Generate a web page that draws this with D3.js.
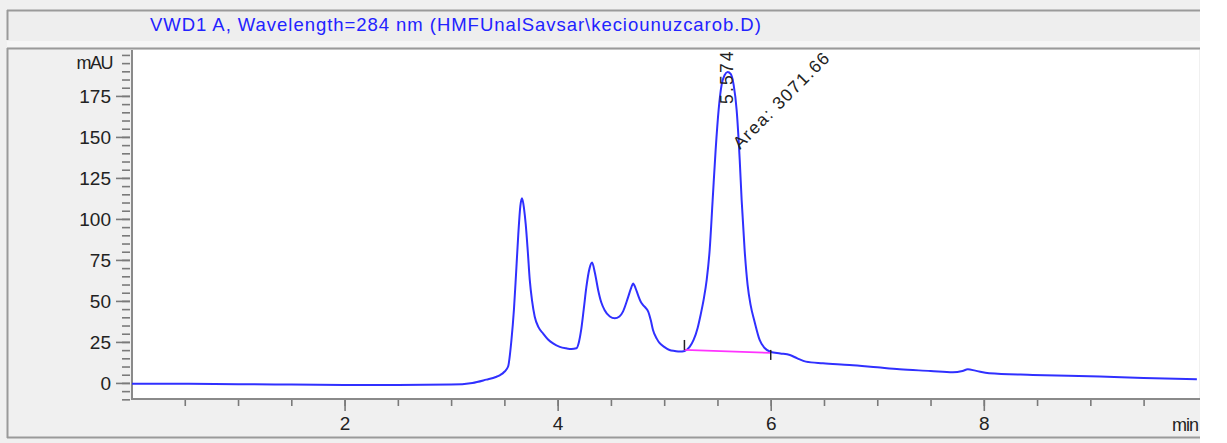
<!DOCTYPE html>
<html>
<head>
<meta charset="utf-8">
<script src="https://cdn.jsdelivr.net/npm/d3@7"></script>
<style>
  html, body { margin: 0; padding: 0; background: #ffffff; }
  svg { display: block; }
  text { font-family: "Liberation Sans", Arial, sans-serif; }
</style>
</head>
<body>
<svg id="chart" width="1227" height="443"></svg>
<script>
// Signal trace: retention time (min) and detector response (mAU)
const timeMin = [
  0.00, 0.50, 1.00, 1.50, 2.00, 2.50, 3.00, 3.20, 3.33, 3.42, 3.46, 3.50, 3.535,
  3.566, 3.59, 3.61, 3.63, 3.65, 3.666, 3.685, 3.70, 3.72, 3.738, 3.76, 3.785,
  3.82, 3.863, 3.91, 3.957, 4.02, 4.08, 4.13, 4.176, 4.20, 4.22, 4.245, 4.27,
  4.30, 4.323, 4.35, 4.38, 4.41, 4.44, 4.49, 4.536, 4.58, 4.613, 4.66, 4.69,
  4.708, 4.73, 4.754, 4.78, 4.80, 4.83, 4.85, 4.875, 4.895, 4.93, 4.958, 5.00,
  5.05, 5.10, 5.145, 5.192, 5.239, 5.276, 5.314, 5.342, 5.370, 5.399, 5.427,
  5.455, 5.483, 5.511, 5.539, 5.568, 5.596, 5.624, 5.652, 5.680, 5.709, 5.727,
  5.755, 5.783, 5.811, 5.849, 5.896, 5.943, 6.00, 6.09, 6.18, 6.25, 6.33, 6.49,
  6.74, 7.00, 7.21, 7.50, 7.71, 7.80, 7.85, 7.92, 8.05, 8.46, 9.09, 9.50, 10.0
];
const signalMAU = [
  -0.5, -0.5, -0.8, -1.0, -1.2, -1.2, -1.0, 0.0, 2.0, 3.6, 4.8, 6.8, 10.0,
  26.0, 45.0, 67.0, 90.0, 108.0, 112.6, 106.0, 97.0, 80.0, 63.0, 50.0, 40.4,
  34.0, 30.2, 26.5, 24.1, 22.0, 21.1, 20.7, 21.1, 25.0, 32.0, 45.0, 58.7,
  70.0, 73.4, 67.0, 56.7, 49.0, 44.5, 40.5, 39.4, 40.5, 43.5, 52.0, 58.0,
  60.7, 58.0, 53.7, 49.5, 47.6, 45.5, 43.5, 38.0, 32.3, 27.0, 24.2, 22.0,
  20.1, 19.5, 19.1, 19.5, 22.0, 26.2, 33.5, 41.5, 50.6, 62.8, 81.1,
  111.6, 142.1, 166.5, 181.7, 187.8, 189.6, 188.4, 181.7, 166.5, 136.0, 111.6,
  81.1, 59.8, 47.6, 37.2, 26.2, 21.3, 18.9, 18.0, 17.0, 15.0, 13.0, 12.0,
  11.0, 9.5, 8.3, 7.3, 6.5, 7.3, 8.3, 7.5, 5.9, 4.9, 3.9, 3.0, 2.2
];

// Integration baseline of the main peak: start / end (min, mAU)
const baseTime = [5.19, 6.00];
const baseMAU = [20.1, 18.3];

// Peak annotations
const peakRT = 5.574;
const peakRTLabel = "5.574";
const peakAreaLabel = "Area: 3071.66";

// Axis ticks and labels
const xMajorTicks = [2, 4, 6, 8];
const yMajorTicks = [0, 25, 50, 75, 100, 125, 150, 175];
const xUnit = "min";
const yUnit = "mAU";
const titleText = "VWD1 A, Wavelength=284 nm (HMFUnalSavsar\\keciounuzcarob.D)";

const svg = d3.select("#chart");
const W = 1227, H = 443;

// Layout of the window panels and plot area
const plot = { left: 132, right: 1199, top: 50, bottom: 399 };

const x = d3.scaleLinear().domain([0, 10.02]).range([plot.left - 0.5, plot.right]);
const y = d3.scaleLinear().domain([-9.8, 203]).range([plot.bottom, plot.top]);

// Background
svg.append("rect").attr("x", 0).attr("y", 0).attr("width", W).attr("height", H).attr("fill", "#ffffff");
svg.append("rect").attr("x", 0).attr("y", 0).attr("width", 1200).attr("height", H).attr("fill", "#f0f0f0");

// Title panel
svg.append("rect").attr("x", 7).attr("y", 10).attr("width", 1193).attr("height", 31).attr("fill", "#eeeeee");
svg.append("rect").attr("x", 7).attr("y", 41).attr("width", 1193).attr("height", 6).attr("fill", "#f6f6f6");
svg.append("line").attr("x1", 7).attr("x2", 1200).attr("y1", 10.5).attr("y2", 10.5)
  .attr("stroke", "#9a9a9a").attr("stroke-width", 2);
svg.append("line").attr("x1", 7.5).attr("x2", 7.5).attr("y1", 10).attr("y2", 40)
  .attr("stroke", "#9a9a9a").attr("stroke-width", 2);
svg.append("text").attr("x", 150).attr("y", 31)
  .attr("fill", "#2222ff").attr("font-size", 18.5).attr("letter-spacing", 0.96)
  .text(titleText);

// Chart panel frame
svg.append("line").attr("x1", 7).attr("x2", 1200).attr("y1", 48.5).attr("y2", 48.5)
  .attr("stroke", "#9a9a9a").attr("stroke-width", 2);
svg.append("line").attr("x1", 7.5).attr("x2", 7.5).attr("y1", 48).attr("y2", 438)
  .attr("stroke", "#9a9a9a").attr("stroke-width", 2);
svg.append("line").attr("x1", 7).attr("x2", 1200).attr("y1", 437.5).attr("y2", 437.5)
  .attr("stroke", "#9a9a9a").attr("stroke-width", 2);

// Plot area
svg.append("rect").attr("x", plot.left).attr("y", plot.top)
  .attr("width", plot.right - plot.left).attr("height", plot.bottom - plot.top)
  .attr("fill", "#ffffff");

// Y axis
const yMinor = d3.range(-10, 201, 5);
const yAxisMinor = d3.axisLeft(y).tickValues(yMinor).tickSize(8).tickFormat("");
const yAxisMajor = d3.axisLeft(y).tickValues(yMajorTicks).tickSize(14).tickPadding(5).tickFormat(d3.format("d"));
const gyMinor = svg.append("g").attr("transform", `translate(${plot.left - 2},0)`).call(yAxisMinor);
const gyMajor = svg.append("g").attr("transform", `translate(${plot.left - 2},0)`).call(yAxisMajor);
[gyMinor, gyMajor].forEach(g => {
  g.select(".domain").remove();
  g.selectAll(".tick line").attr("stroke", "#7a7a7a").attr("stroke-width", 1.6);
});
gyMajor.selectAll(".tick text").attr("fill", "#222").attr("font-size", 19)
  .attr("font-family", "Liberation Sans, Arial, sans-serif");
svg.append("line").attr("x1", plot.left).attr("x2", plot.left).attr("y1", plot.top).attr("y2", plot.bottom + 1)
  .attr("stroke", "#8a8a8a").attr("stroke-width", 2);
svg.append("text").attr("x", 112).attr("y", y(195)).attr("dy", "0.35em")
  .attr("text-anchor", "end").attr("fill", "#222").attr("font-size", 18)
  .attr("letter-spacing", -1.5)
  .text(yUnit);

// X axis
const xMinor = d3.range(0.5, 9.51, 0.5);
const xAxisMinor = d3.axisBottom(x).tickValues(xMinor).tickSize(7).tickFormat("");
const xAxisMajor = d3.axisBottom(x).tickValues(xMajorTicks).tickSize(12).tickPadding(6).tickFormat(d3.format("d"));
const gxMinor = svg.append("g").attr("transform", `translate(0,${plot.bottom})`).call(xAxisMinor);
const gxMajor = svg.append("g").attr("transform", `translate(0,${plot.bottom})`).call(xAxisMajor);
[gxMinor, gxMajor].forEach(g => {
  g.select(".domain").remove();
  g.selectAll(".tick line").attr("stroke", "#7a7a7a").attr("stroke-width", 1.6);
});
gxMajor.selectAll(".tick text").attr("fill", "#222").attr("font-size", 19)
  .attr("font-family", "Liberation Sans, Arial, sans-serif");
svg.append("line").attr("x1", plot.left - 1).attr("x2", 1200).attr("y1", plot.bottom).attr("y2", plot.bottom)
  .attr("stroke", "#8a8a8a").attr("stroke-width", 2);
svg.append("text").attr("x", 1198).attr("y", 431)
  .attr("text-anchor", "end").attr("fill", "#222").attr("font-size", 18)
  .attr("letter-spacing", -1)
  .text(xUnit);

// Clip the trace to the plot area
svg.append("clipPath").attr("id", "plotClip").append("rect")
  .attr("x", plot.left).attr("y", plot.top).attr("width", plot.right - plot.left).attr("height", plot.bottom - plot.top);

const points = timeMin.map((t, i) => [t, signalMAU[i]]);
const line = d3.line().x(d => x(d[0])).y(d => y(d[1])).curve(d3.curveMonotoneX);

svg.append("path").datum(points)
  .attr("clip-path", "url(#plotClip)")
  .attr("d", line)
  .attr("fill", "none")
  .attr("stroke", "#3030ff")
  .attr("stroke-width", 2)
  .attr("stroke-linejoin", "round");

// Integration baseline with start/end markers
svg.append("line")
  .attr("x1", x(baseTime[0])).attr("y1", y(baseMAU[0]))
  .attr("x2", x(baseTime[1])).attr("y2", y(baseMAU[1]))
  .attr("stroke", "#ff33ff").attr("stroke-width", 1.8);
svg.append("line")
  .attr("x1", x(baseTime[0])).attr("x2", x(baseTime[0]))
  .attr("y1", y(baseMAU[0]) - 10).attr("y2", y(baseMAU[0]))
  .attr("stroke", "#222").attr("stroke-width", 1.5);
svg.append("line")
  .attr("x1", x(baseTime[1])).attr("x2", x(baseTime[1]))
  .attr("y1", y(baseMAU[1]) - 3).attr("y2", y(baseMAU[1]) + 7)
  .attr("stroke", "#222").attr("stroke-width", 1.5);

// Retention time label (vertical) and area label (diagonal)
svg.append("text")
  .attr("transform", `translate(${x(peakRT) + 8},${104}) rotate(-90)`)
  .attr("fill", "#222").attr("font-size", 17.5).attr("letter-spacing", 2.2)
  .text(peakRTLabel);
svg.append("text")
  .attr("transform", `translate(${740},${150}) rotate(-45)`)
  .attr("fill", "#222").attr("font-size", 17.5).attr("letter-spacing", 1.5)
  .text(peakAreaLabel);
</script>
</body>
</html>
